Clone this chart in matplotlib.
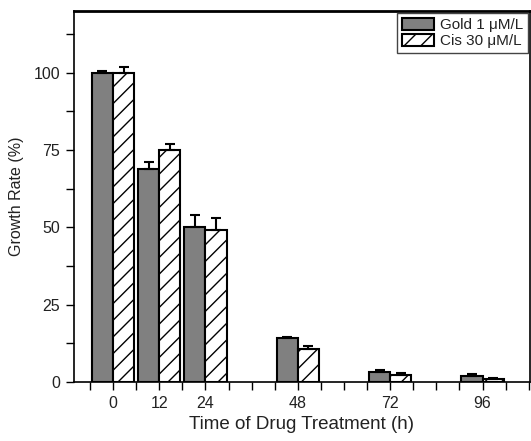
import numpy as np
import matplotlib.pyplot as plt
from matplotlib.ticker import FixedLocator, MultipleLocator

plt.rcParams['font.family'] = ['Liberation Sans', 'DejaVu Sans']
plt.rcParams['hatch.linewidth'] = 1.0

hours = [0, 12, 24, 48, 72, 96]
gold = [100, 69, 50, 14.2, 3.3, 2.0]
gold_err = [0.7, 2, 4, 0.3, 0.4, 0.4]
cis = [100, 75, 49, 10.7, 2.2, 1.0]
cis_err = [2, 2, 4, 1, 0.6, 0.3]

x = np.array(hours, dtype=float)
w = 5.5

fig = plt.figure(figsize=(5.31, 4.41), dpi=100)
ax = fig.add_axes([0.139, 0.134, 0.859, 0.841])

ax.bar(x - w/2, gold, w, color='#808080', edgecolor='black', linewidth=1.5,
       label='Gold 1 \u03bcM/L', zorder=2)
ax.bar(x + w/2, cis, w, color='white', edgecolor='black', linewidth=1.5,
       hatch='//', label='Cis 30 \u03bcM/L', zorder=2)
ax.errorbar(x - w/2, gold, yerr=[np.zeros(len(gold)), gold_err], fmt='none',
            ecolor='black', elinewidth=1.5, capsize=3.5, capthick=1.5, zorder=3)
ax.errorbar(x + w/2, cis, yerr=[np.zeros(len(cis)), cis_err], fmt='none',
            ecolor='black', elinewidth=1.5, capsize=3.5, capthick=1.5, zorder=3)

ax.set_xlim(-10.2, 108.3)
ax.set_ylim(0, 120)
ax.xaxis.set_major_locator(FixedLocator(hours))
ax.xaxis.set_minor_locator(FixedLocator([-6, 6, 18, 30, 36, 42, 54, 60, 66, 78, 84, 90, 102, 108]))
ax.yaxis.set_major_locator(FixedLocator([0, 25, 50, 75, 100]))
ax.yaxis.set_minor_locator(MultipleLocator(12.5))
ax.tick_params(which='major', direction='out', length=6, width=1, labelsize=11.5,
               labelcolor='#222222', pad=4)
ax.tick_params(which='minor', direction='out', length=6, width=1)
for s in ax.spines.values():
    s.set_linewidth(1.2)
ax.spines['top'].set_linewidth(2)

ax.set_xlabel('Time of Drug Treatment (h)', fontsize=13.5, color='#222222', labelpad=4)
ax.set_ylabel('Growth Rate (%)', fontsize=11.5, color='#222222', labelpad=7)

leg = ax.legend(loc='upper right', fontsize=11, fancybox=False, framealpha=1,
                edgecolor='#444444', handlelength=2.1, handleheight=0.8,
                borderaxespad=0.15, borderpad=0.3, handletextpad=0.4,
                labelspacing=0.15)
for t in leg.get_texts():
    t.set_color('#222222')

fig.savefig('out.png', dpi=100)
